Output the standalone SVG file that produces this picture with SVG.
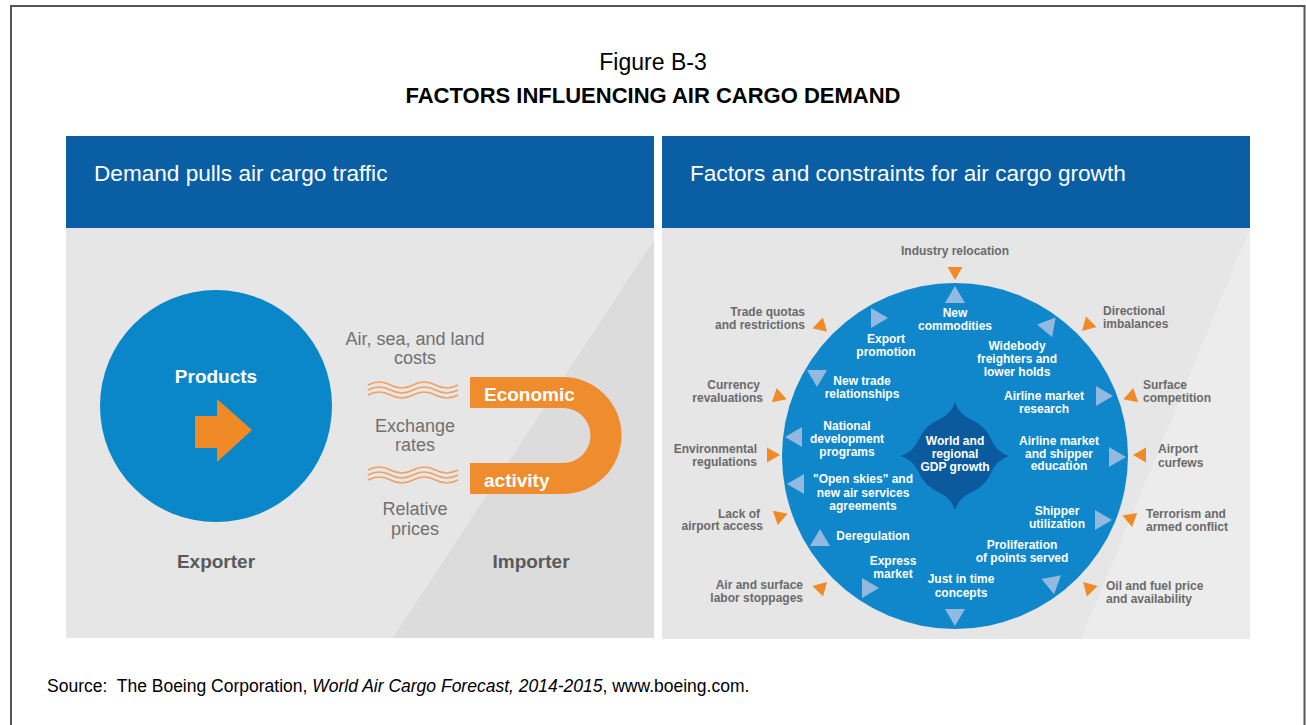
<svg xmlns="http://www.w3.org/2000/svg" width="1306" height="725" viewBox="0 0 1306 725">
<style>
.hdr{fill:#0a5fa4}
.panel{fill:#e6e6e6}
.shade{fill:#dcdcdc}
.shade2{fill:#ececec}
.htxt{font-family:"Liberation Sans",Arial,sans-serif;font-size:22.6px;fill:#ffffff}
.ltxt{font-family:"Liberation Sans",Arial,sans-serif;font-size:18px;fill:#707070;text-anchor:middle}
.btxt{font-family:"Liberation Sans",Arial,sans-serif;font-size:19px;font-weight:bold;fill:#5a5a5a;text-anchor:middle}
.wtxt{font-family:"Liberation Sans",Arial,sans-serif;font-size:19px;font-weight:bold;fill:#ffffff}
.in{font-family:"Liberation Sans",Arial,sans-serif;font-size:12px;font-weight:bold;fill:#ffffff;text-anchor:middle}
.out{font-family:"Liberation Sans",Arial,sans-serif;font-size:12px;font-weight:bold;fill:#6a6a6a}
.end{text-anchor:end}
.mid{text-anchor:middle}
.wave{fill:none;stroke:#f0a060;stroke-width:1.5}
.lt{fill:#93b9e0}
.or{fill:#ef8a26}
</style>
<defs>
<polygon id="tl" points="-8,-10 9,0 -8,10"/>
<polygon id="to" points="-6,-7.5 7,0 -6,7.5"/>
</defs>
<rect x="11" y="6" width="1293.5" height="740" fill="#ffffff" stroke="#555555" stroke-width="2"/>
<g id="title">
<text x="653" y="70" text-anchor="middle" font-family="Liberation Sans, Arial, sans-serif" font-size="23" fill="#000">Figure B-3</text>
<text x="653" y="103" text-anchor="middle" font-family="Liberation Sans, Arial, sans-serif" font-size="22" font-weight="bold" fill="#000">FACTORS INFLUENCING AIR CARGO DEMAND</text>
</g>
<g id="left-panel">
<rect class="panel" x="66" y="136" width="588" height="502"/>
<polygon class="shade" points="654,240 654,638 393,638"/>
<rect class="hdr" x="66" y="136" width="588" height="92"/>
<text class="htxt" x="94" y="181">Demand pulls air cargo traffic</text>
</g>
<g id="exporter">
<circle cx="216" cy="406" r="116" fill="#0a87c9"/>
<text class="wtxt" x="216" y="383" text-anchor="middle">Products</text>
<polygon fill="#ef8a26" points="195,416 217,416 217,399 252,430 217,462 217,448 195,448"/>
<text class="btxt" x="216" y="568">Exporter</text>
</g>
<g id="factors-left">
<text class="ltxt" x="415" y="345">Air, sea, and land</text>
<text class="ltxt" x="415" y="364">costs</text>
<path class="wave" d="M368,385 q11.25,-6 22.5,0 t22.5,0 t22.5,0 t22.5,0"/>
<path class="wave" d="M368,390 q11.25,-6 22.5,0 t22.5,0 t22.5,0 t22.5,0"/>
<path class="wave" d="M368,395 q11.25,-6 22.5,0 t22.5,0 t22.5,0 t22.5,0"/>
<text class="ltxt" x="415" y="432">Exchange</text>
<text class="ltxt" x="415" y="451">rates</text>
<path class="wave" d="M368,470 q11.25,-6 22.5,0 t22.5,0 t22.5,0 t22.5,0"/>
<path class="wave" d="M368,475 q11.25,-6 22.5,0 t22.5,0 t22.5,0 t22.5,0"/>
<path class="wave" d="M368,480 q11.25,-6 22.5,0 t22.5,0 t22.5,0 t22.5,0"/>
<text class="ltxt" x="415" y="515">Relative</text>
<text class="ltxt" x="415" y="535">prices</text>
</g>
<g id="importer">
<path fill="#ef8d2e" d="M470,377 H563 A58.5,58.5 0 0 1 563,494 H470 V463 H563 A27.5,27.5 0 0 0 563,408 H470 Z"/>
<text class="wtxt" x="484" y="401">Economic</text>
<text class="wtxt" x="484" y="487">activity</text>
<text class="btxt" x="531" y="568">Importer</text>
</g>
<g id="right-panel">
<rect class="panel" x="662" y="136" width="588" height="503"/>
<polygon class="shade2" points="1250,228 1250,639 1081,639"/>
<rect class="hdr" x="662" y="136" width="588" height="92"/>
<text class="htxt" x="690" y="181">Factors and constraints for air cargo growth</text>
</g>
<g id="growth-circle">
<circle cx="955" cy="456" r="173" fill="#0f87ca"/>
</g>
<g id="gdp-core">
<path fill="#0b5a9e" d="M955,402 Q959,414 970,419 A40,40 0 0 1 992,441 Q997,452 1009,456 Q997,460 992,471 A40,40 0 0 1 970,493 Q959,498 955,510 Q951,498 940,493 A40,40 0 0 1 918,471 Q913,460 901,456 Q913,452 918,441 A40,40 0 0 1 940,419 Q951,414 955,402 Z"/>
<text class="in" x="955" y="445">World and</text>
<text class="in" x="955" y="458">regional</text>
<text class="in" x="955" y="471">GDP growth</text>
</g>
<g id="inner-factors">
<text class="in" x="955" y="317">New</text>
<text class="in" x="955" y="330">commodities</text>
<text class="in" x="886" y="343">Export</text>
<text class="in" x="886" y="356">promotion</text>
<text class="in" x="862" y="385">New trade</text>
<text class="in" x="862" y="398">relationships</text>
<text class="in" x="847" y="430">National</text>
<text class="in" x="847" y="443">development</text>
<text class="in" x="847" y="456">programs</text>
<text class="in" x="863" y="483">"Open skies" and</text>
<text class="in" x="863" y="497">new air services</text>
<text class="in" x="863" y="510">agreements</text>
<text class="in" x="873" y="540">Deregulation</text>
<text class="in" x="893" y="565">Express</text>
<text class="in" x="893" y="578">market</text>
<text class="in" x="961" y="583">Just in time</text>
<text class="in" x="961" y="597">concepts</text>
<text class="in" x="1022" y="549">Proliferation</text>
<text class="in" x="1022" y="562">of points served</text>
<text class="in" x="1057" y="515">Shipper</text>
<text class="in" x="1057" y="528">utilization</text>
<text class="in" x="1059" y="445">Airline market</text>
<text class="in" x="1059" y="458">and shipper</text>
<text class="in" x="1059" y="470">education</text>
<text class="in" x="1044" y="400">Airline market</text>
<text class="in" x="1044" y="413">research</text>
<text class="in" x="1017" y="350">Widebody</text>
<text class="in" x="1017" y="363">freighters and</text>
<text class="in" x="1017" y="376">lower holds</text>
</g>
<g id="constraints">
<text class="out mid" x="955" y="255">Industry relocation</text>
<text class="out end" x="805" y="316">Trade quotas</text>
<text class="out end" x="805" y="329">and restrictions</text>
<text class="out end" x="760" y="389">Currency</text>
<text class="out end" x="763" y="402">revaluations</text>
<text class="out end" x="757" y="453">Environmental</text>
<text class="out end" x="757" y="466">regulations</text>
<text class="out end" x="760" y="518">Lack of</text>
<text class="out end" x="763" y="530">airport access</text>
<text class="out end" x="803" y="589">Air and surface</text>
<text class="out end" x="803" y="602">labor stoppages</text>
<text class="out" x="1103" y="315">Directional</text>
<text class="out" x="1103" y="328">imbalances</text>
<text class="out" x="1143" y="389">Surface</text>
<text class="out" x="1143" y="402">competition</text>
<text class="out" x="1158" y="453">Airport</text>
<text class="out" x="1158" y="467">curfews</text>
<text class="out" x="1146" y="518">Terrorism and</text>
<text class="out" x="1146" y="531">armed conflict</text>
<text class="out" x="1106" y="590">Oil and fuel price</text>
<text class="out" x="1106" y="603">and availability</text>
</g>
<g id="connectors">
<use href="#tl" class="lt" transform="translate(955,295) rotate(-90)"/>
<use href="#tl" class="lt" transform="translate(879,318)"/>
<use href="#tl" class="lt" transform="translate(817,378) rotate(90)"/>
<use href="#tl" class="lt" transform="translate(794,437) rotate(180)"/>
<use href="#tl" class="lt" transform="translate(796,484) rotate(180)"/>
<use href="#tl" class="lt" transform="translate(820,538) rotate(-90)"/>
<use href="#tl" class="lt" transform="translate(870,588)"/>
<use href="#tl" class="lt" transform="translate(955,617) rotate(90)"/>
<use href="#tl" class="lt" transform="translate(1050,582) rotate(200)"/>
<use href="#tl" class="lt" transform="translate(1103,520)"/>
<use href="#tl" class="lt" transform="translate(1117,457)"/>
<use href="#tl" class="lt" transform="translate(1104,396)"/>
<use href="#tl" class="lt" transform="translate(1046,326) rotate(190)"/>
<use href="#to" class="or" transform="translate(955,273) rotate(90)"/>
<use href="#to" class="or" transform="translate(822,327) rotate(44)"/>
<use href="#to" class="or" transform="translate(780,397) rotate(19)"/>
<use href="#to" class="or" transform="translate(773,455)"/>
<use href="#to" class="or" transform="translate(781,516) rotate(-19)"/>
<use href="#to" class="or" transform="translate(822,587) rotate(-45)"/>
<use href="#to" class="or" transform="translate(1087,326) rotate(135)"/>
<use href="#to" class="or" transform="translate(1130,397) rotate(161)"/>
<use href="#to" class="or" transform="translate(1140,455) rotate(180)"/>
<use href="#to" class="or" transform="translate(1129,518) rotate(200)"/>
<use href="#to" class="or" transform="translate(1088,587) rotate(225)"/>
</g>
<g id="source">
<text x="47" y="692" xml:space="preserve" font-family="Liberation Sans, Arial, sans-serif" font-size="17.5" fill="#000">Source:  The Boeing Corporation, <tspan font-style="italic">World Air Cargo Forecast, 2014-2015</tspan>, www.boeing.com.</text>
</g>
</svg>
